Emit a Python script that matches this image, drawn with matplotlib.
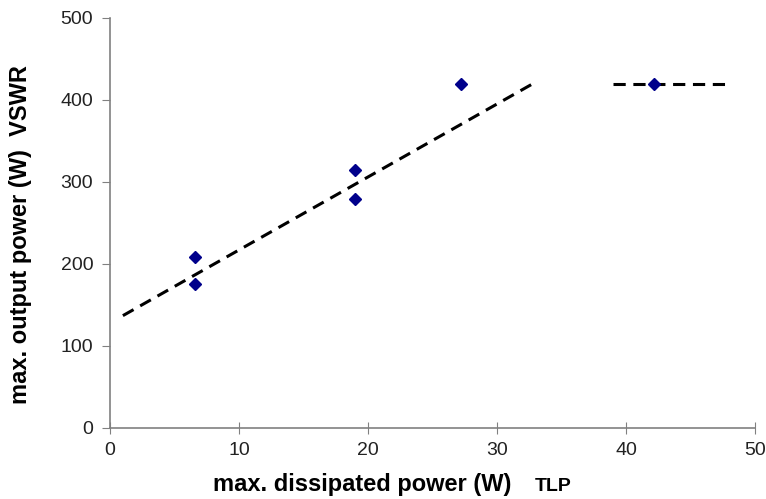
import matplotlib
matplotlib.use("Agg")
import matplotlib.pyplot as plt

# measured points
dissipated_w = [6.6, 6.6, 19.0, 19.0, 27.2, 42.2]
output_w = [209, 175, 314, 279, 420, 420]

# dashed guide lines
trend_x = [1.0, 32.8]
trend_y = [137, 420]
flat_x = [39.0, 48.0]
flat_y = [420, 420]

x_ticks = [0, 10, 20, 30, 40, 50]
y_ticks = [0, 100, 200, 300, 400, 500]

plt.rcParams['font.family'] = ['Liberation Sans', 'DejaVu Sans']

fig = plt.figure(figsize=(7.66, 4.99), dpi=100)
ax = fig.add_axes([0.1436, 0.1423, 0.8420, 0.8217])

ax.plot(trend_x, trend_y, color='black', lw=2.2, dashes=(4, 2.5))
ax.plot(flat_x, flat_y, color='black', lw=2.2, dashes=(4, 2.5))
ax.plot(dissipated_w, output_w, linestyle='none', marker='D', ms=6.5,
        color='#00008B', zorder=3)

ax.set_xlim(0, 50)
ax.set_ylim(0, 500)
ax.set_xticks(x_ticks)
ax.set_yticks(y_ticks)

for side in ['top', 'right']:
    ax.spines[side].set_visible(False)
for side in ['left', 'bottom']:
    ax.spines[side].set_color('#808080')
    ax.spines[side].set_linewidth(1.2)

ax.tick_params(axis='y', direction='out', length=6, color='#808080',
               labelsize=14, labelcolor='#222222', pad=6)
ax.tick_params(axis='x', direction='inout', length=8, color='#808080',
               labelsize=14, labelcolor='#222222', pad=6)

# axis titles placed by hand, TLP is set smaller than the rest
fig.text(0.027, 0.529, 'max. output power (W)  VSWR', rotation=90,
         fontsize=17, fontweight='bold', ha='center', va='center')
fig.text(0.473, 0.016, 'max. dissipated power (W)', fontsize=17,
         fontweight='bold', ha='center', va='baseline')
fig.text(0.722, 0.016, 'TLP', fontsize=14, fontweight='bold',
         ha='center', va='baseline')

fig.savefig('out.png', dpi=100)
